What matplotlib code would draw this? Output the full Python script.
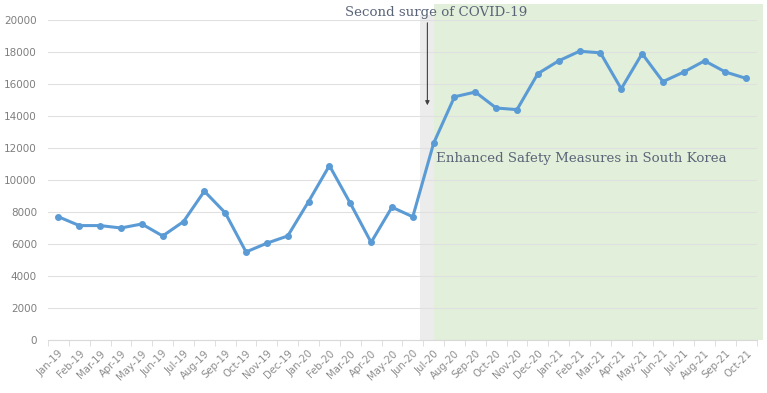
import matplotlib
matplotlib.use("Agg")
import matplotlib.pyplot as plt
import matplotlib.transforms as mtransforms
from matplotlib.patches import Rectangle
import numpy as np

months = ["Jan-19", "Feb-19", "Mar-19", "Apr-19", "May-19", "Jun-19", "Jul-19", "Aug-19",
          "Sep-19", "Oct-19", "Nov-19", "Dec-19", "Jan-20", "Feb-20", "Mar-20", "Apr-20",
          "May-20", "Jun-20", "Jul-20", "Aug-20", "Sep-20", "Oct-20", "Nov-20", "Dec-20",
          "Jan-21", "Feb-21", "Mar-21", "Apr-21", "May-21", "Jun-21", "Jul-21", "Aug-21",
          "Sep-21", "Oct-21"]
values = [7700, 7150, 7150, 7000, 7250, 6500, 7400, 9300,
          7950, 5500, 6050, 6500, 8650, 10900, 8550, 6100,
          8300, 7700, 12300, 15200, 15500, 14500, 14400, 16650,
          17450, 18050, 17950, 15700, 17900, 16150, 16750, 17450,
          16750, 16350]
y_ticks = [0, 2000, 4000, 6000, 8000, 10000, 12000, 14000, 16000, 18000, 20000]

surge_text = "Second surge of COVID-19"
measures_text = "Enhanced Safety Measures in South Korea"

x = np.arange(len(months))

fig = plt.figure(figsize=(7.67, 3.93), dpi=100)
ax = fig.add_axes([0.0626, 0.135, 0.924, 0.814])

# 背景区域：灰色过渡带 + 绿色加强措施区
ax.add_patch(Rectangle((17.35, 0), 0.65, 20300, facecolor="#ececec",
                       edgecolor="none", zorder=0, clip_on=False))
ax.add_patch(Rectangle((18.0, 0), 15.8, 21000, facecolor="#e2efda",
                       edgecolor="none", zorder=0, clip_on=False))

ax.plot(x, values, color="#5b9bd5", linewidth=2.2, marker="o", markersize=4, zorder=3)

ax.set_xlim(-0.5, len(months) - 0.5)
ax.set_ylim(0, 20000)
ax.set_yticks(y_ticks)
ax.set_yticklabels([str(v) for v in y_ticks], fontsize=7.5, color="#7f7f7f")
ax.yaxis.grid(True, color="#e0e0e0", linewidth=0.8, zorder=1)
ax.set_axisbelow(True)

ax.set_xticks(x)
ax.set_xticklabels(months, rotation=45, ha="right", rotation_mode="anchor",
                   fontsize=7.3, color="#8c8c8c")
offset = mtransforms.ScaledTranslation(-4 / 100, 0, fig.dpi_scale_trans)
for lbl in ax.get_xticklabels():
    lbl.set_transform(lbl.get_transform() + offset)
ax.set_xticks(np.arange(-0.5, len(months), 1), minor=True)
ax.tick_params(axis="x", which="major", length=0, pad=6)
ax.tick_params(axis="x", which="minor", length=4, color="#d9d9d9")
ax.tick_params(axis="y", length=0, pad=8)

for s in ["top", "right", "left"]:
    ax.spines[s].set_visible(False)
ax.spines["bottom"].set_color("#d9d9d9")

# 注释
ax.annotate("", xy=(17.7, 14500), xytext=(17.7, 20000),
            arrowprops=dict(arrowstyle="-|>", color="#404040", lw=0.8,
                            mutation_scale=6), annotation_clip=False)
ax.text(13.75, 20500, surge_text, fontsize=9.6, family="DejaVu Serif",
        color="#5a6478", va="center", ha="left", clip_on=False)
ax.text(18.1, 11350, measures_text, fontsize=9.6, family="DejaVu Serif",
        color="#5a6478", va="center", ha="left")

plt.savefig("out.png", dpi=100)
